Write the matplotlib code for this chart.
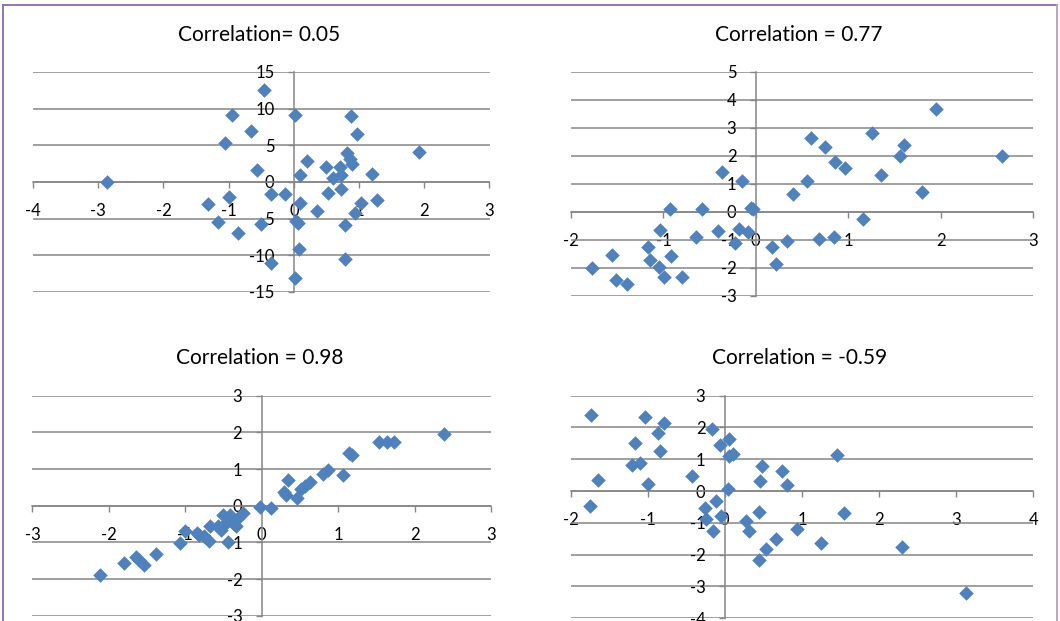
import matplotlib.pyplot as plt
from matplotlib.lines import Line2D

plt.rcParams['font.family'] = ['Lato', 'DejaVu Sans']
plt.rcParams['axes.unicode_minus'] = False

# data
x1 = [-2.87, -0.46, -0.95, 0.01, 0.88, -0.65, 0.97, -1.06, 1.92, 0.81, 0.86,
      0.89, 0.20, 0.50, 0.71, 0.60, 0.73, -0.56, 0.09, 1.20, -0.99, -0.35,
      -0.14, 0.53, 0.73, -1.31, 0.10, 1.03, 1.27, 0.35, 0.93, -1.16, -0.51,
      0.04, 0.06, 0.78, -0.85, 0.08, -0.35, 0.78, 0.02]
y1 = [0.0, 12.5, 9.1, 9.2, 9.0, 7.0, 6.5, 5.3, 4.1, 3.9, 3.2,
      2.4, 2.8, 2.1, 2.1, 0.6, 0.9, 1.6, 0.9, 1.1, -2.0, -1.7,
      -1.6, -1.5, -0.9, -3.0, -2.8, -2.9, -2.4, -4.0, -4.2, -5.5, -5.7,
      -5.3, -5.6, -5.8, -6.9, -9.2, -11.0, -10.5, -13.1]

x2 = [-1.77, -1.56, -1.51, -1.39, -1.17, -1.14, -1.05, -1.04, -0.99, -0.93,
      -0.92, -0.80, -0.65, -0.58, -0.41, -0.37, -0.22, -0.18, -0.15, -0.08,
      -0.05, -0.03, 0.17, 0.22, 0.34, 0.40, 0.55, 0.60, 0.68, 0.75, 0.85,
      0.86, 0.97, 1.16, 1.26, 1.36, 1.56, 1.60, 1.80, 1.95, 2.66]
y2 = [-2.0, -1.53, -2.43, -2.57, -1.26, -1.71, -1.97, -0.63, -2.33, 0.11,
      -1.56, -2.33, -0.90, 0.11, -0.69, 1.44, -1.11, -0.62, 1.12, -0.73,
      0.13, 0.11, -1.26, -1.84, -1.02, 0.65, 1.09, 2.63, -0.97, 2.32, -0.90,
      1.77, 1.58, -0.26, 2.82, 1.33, 1.99, 2.38, 0.71, 3.69, 2.01]

x3 = [-2.11, -1.80, -1.64, -1.60, -1.54, -1.38, -1.07, -1.00, -0.85, -0.82,
      -0.75, -0.69, -0.68, -0.57, -0.53, -0.51, -0.47, -0.44, -0.42, -0.38,
      -0.33, -0.31, -0.24, -0.02, 0.12, 0.29, 0.32, 0.35, 0.46, 0.52, 0.57,
      0.63, 0.80, 0.87, 1.07, 1.14, 1.18, 1.53, 1.64, 1.73, 2.39]
y3 = [-1.89, -1.55, -1.41, -1.48, -1.61, -1.32, -1.03, -0.69, -0.74, -0.80,
      -0.83, -0.95, -0.55, -0.55, -0.65, -0.24, -0.46, -0.99, -0.24, -0.46,
      -0.55, -0.33, -0.19, -0.04, -0.05, 0.37, 0.30, 0.69, 0.22, 0.45, 0.55,
      0.65, 0.86, 0.98, 0.84, 1.43, 1.37, 1.75, 1.75, 1.74, 1.95]

x4 = [-1.74, -1.64, -1.75, -1.20, -1.17, -1.10, -1.04, -0.99, -0.87, -0.84,
      -0.79, -0.43, -0.26, -0.24, -0.16, -0.15, -0.12, -0.06, -0.05, 0.04,
      0.06, 0.06, 0.11, 0.28, 0.32, 0.44, 0.44, 0.45, 0.48, 0.54, 0.66,
      0.74, 0.81, 0.93, 1.25, 1.45, 1.55, 2.30, 3.13]
y4 = [2.38, 0.34, -0.46, 0.81, 1.52, 0.88, 2.33, 0.23, 1.83, 1.26,
      2.15, 0.47, -0.52, -0.87, 1.96, -1.27, -0.31, 1.46, -0.79, 0.05,
      1.65, 1.10, 1.15, -0.94, -1.26, -2.18, -0.66, 0.30, 0.78, -1.84, -1.51,
      0.62, 0.20, -1.19, -1.63, 1.14, -0.68, -1.76, -3.20]

titles = ['Correlation= 0.05', 'Correlation = 0.77',
          'Correlation = 0.98', 'Correlation = -0.59']
xlims = [(-4, 3), (-2, 3), (-3, 3), (-2, 4)]
ylims = [(-15, 15), (-3, 5), (-3, 3), (-4, 3)]
ysteps = [5, 1, 1, 1]

W, H = 1060, 621
# pixel boxes: left, right, top, bottom of each plot area
boxes = [(33, 489.5, 72, 292), (571, 1033, 72, 296),
         (32.4, 491, 395.7, 615.7), (570.5, 1033.4, 395.7, 618.1)]
title_pos = [(259, 35), (799, 35), (260, 358), (800, 358)]

fig = plt.figure(figsize=(W / 100, H / 100), dpi=100)
grid_col = '#868686'
blue = '#4F81BD'

data = [(x1, y1), (x2, y2), (x3, y3), (x4, y4)]
for i, (xs, ys) in enumerate(data):
    l, r, t, b = boxes[i]
    ax = fig.add_axes([l / W, 1 - b / H, (r - l) / W, (b - t) / H])
    ax.patch.set_alpha(0)
    ax.scatter(xs, ys, marker='D', s=55, color=blue, zorder=3, linewidths=0)
    ax.set_xlim(*xlims[i])
    ax.set_ylim(*ylims[i])
    ax.set_xticks(range(xlims[i][0], xlims[i][1] + 1))
    ax.set_yticks(range(ylims[i][0], ylims[i][1] + 1, ysteps[i]))
    ax.spines['left'].set_position(('data', 0))
    ax.spines['bottom'].set_position(('data', 0))
    for s in ['top', 'right']:
        ax.spines[s].set_visible(False)
    for s in ['left', 'bottom']:
        ax.spines[s].set_color(grid_col)
        ax.spines[s].set_linewidth(1.1)
    ax.yaxis.grid(True, color=grid_col, linewidth=1.1)
    ax.set_axisbelow(True)
    ax.tick_params(axis='x', direction='out', length=4, width=1, color=grid_col,
                   pad=11, labelsize=12)
    ax.tick_params(axis='y', direction='out', length=4, width=1, color=grid_col,
                   pad=10, labelsize=12)
    for lab in ax.get_xticklabels() + ax.get_yticklabels():
        lab.set_clip_on(False)
    tx, ty = title_pos[i]
    fig.text(tx / W, 1 - ty / H, titles[i], ha='center', va='center', fontsize=15)

# purple chart frame
frame = '#8A6AA8'
fig.add_artist(Line2D([3 / W, 1057 / W], [1 - 5 / H, 1 - 5 / H], color=frame, lw=1.3))
fig.add_artist(Line2D([3 / W, 3 / W], [0, 1 - 5 / H], color=frame, lw=1.3))
fig.add_artist(Line2D([1057 / W, 1057 / W], [0, 1 - 5 / H], color='#B89CCC', lw=1.3))

fig.savefig('out.png', dpi=100)
